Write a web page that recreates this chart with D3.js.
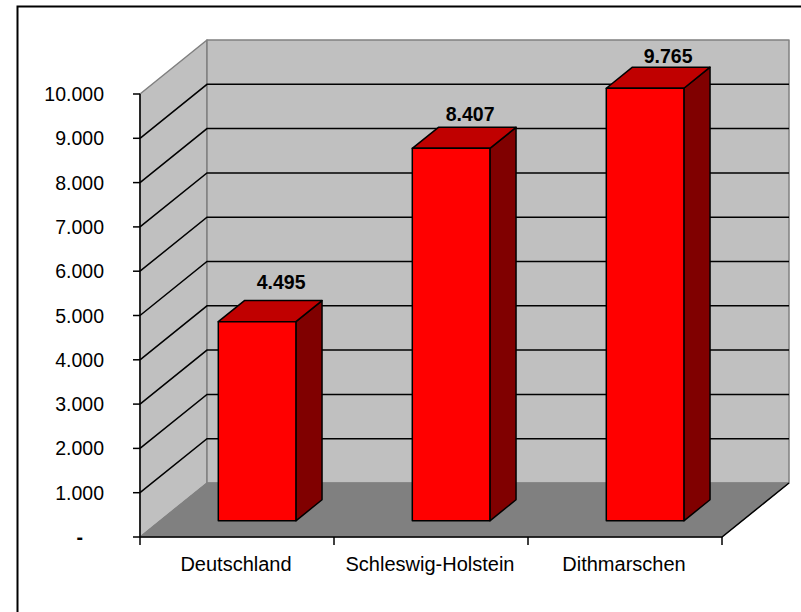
<!DOCTYPE html>
<html>
  <head>
    <meta charset="utf-8" />
    <script src="https://d3js.org/d3.v7.min.js"></script>
    <style>
      body { margin: 0; background: #fff; }
      text { font-family: "Liberation Sans", Arial, sans-serif; fill: #000; }
    </style>
  </head>
  <body>
    <svg id="chart" width="801" height="612" style="display: block"></svg>
    <script>
      const categories = ["Deutschland", "Schleswig-Holstein", "Dithmarschen"];
      const values = [4495, 8407, 9765];
      const ticks = [0, 1000, 2000, 3000, 4000, 5000, 6000, 7000, 8000, 9000, 10000];
      const tickLabels = ["-", "1.000", "2.000", "3.000", "4.000", "5.000", "6.000", "7.000", "8.000", "9.000", "10.000"];
      const valueLabels = ["4.495", "8.407", "9.765"];

      const svg = d3.select("#chart");

      // chart frame, the picture is cropped so only top and left show
      svg.append("polyline")
        .attr("points", "17.5,612 17.5,6.5 801,6.5")
        .attr("fill", "none").attr("stroke", "#000").attr("stroke-width", 2);

      // front plane scales, the walls are the same thing shifted back by dx,dy
      const x = d3.scaleBand().domain(categories).range([140, 722]);
      const y = d3.scaleLinear().domain([0, 10000]).range([537, 94]);
      // data labels drift a bit relative to the bars, so they get their own scale
      const yLabel = d3.scaleLinear().domain([0, 10000]).range([482.6, 52.6]);
      const labelNudge = [11, 6, 10]; // x shift from the bar top centre
      const dx = 67, dy = -54;
      const barW = x.bandwidth() * 0.4;
      const nearDepth = 0.3, farDepth = 0.69; // where bar sits on the floor

      const poly = (pts, fill, stroke, sw) => svg.append("polygon")
        .attr("points", pts.map((p) => p.join(",")).join(" "))
        .attr("fill", fill).attr("stroke", stroke).attr("stroke-width", sw)
        .attr("stroke-linejoin", "round");

      const x0 = x.range()[0], x1 = x.range()[1];
      const yb = y(0), yt = y(10000);

      // side wall, back wall, floor
      poly([[x0, yb], [x0 + dx, yb + dy], [x0 + dx, yt + dy], [x0, yt]], "#c0c0c0", "#808080", 1.5);
      poly([[x0 + dx, yb + dy], [x1 + dx, yb + dy], [x1 + dx, yt + dy], [x0 + dx, yt + dy]], "#c0c0c0", "#808080", 1.5);
      poly([[x0, yb], [x1, yb], [x1 + dx, yb + dy], [x0 + dx, yb + dy]], "#808080", "#808080", 1);

      // gridlines
      ticks.slice(1, -1).forEach((t) => {
        svg.append("polyline")
          .attr("points", `${x0},${y(t)} ${x0 + dx},${y(t) + dy} ${x1 + dx},${y(t) + dy}`)
          .attr("fill", "none").attr("stroke", "#000").attr("stroke-width", 1.5);
      });

      // floor front edges
      svg.append("polyline")
        .attr("points", `${x1 + dx},${yb + dy} ${x1},${yb} ${x0},${yb}`)
        .attr("fill", "none").attr("stroke", "#000").attr("stroke-width", 1.5);

      // y axis
      svg.append("line").attr("x1", x0).attr("x2", x0).attr("y1", yt).attr("y2", yb + 8)
        .attr("stroke", "#000").attr("stroke-width", 1.5);
      ticks.forEach((t, i) => {
        svg.append("line").attr("x1", x0 - 7).attr("x2", x0).attr("y1", y(t)).attr("y2", y(t))
          .attr("stroke", "#000").attr("stroke-width", 1.5);
        // the dash for zero sits further left, accounting number format
        svg.append("text").attr("x", t === 0 ? 83 : 104).attr("y", y(t)).attr("dy", "0.36em")
          .attr("text-anchor", "end").attr("font-size", 19.5)
          .attr("font-weight", t === 0 ? "bold" : "normal").text(tickLabels[i]);
      });

      // x axis
      categories.forEach((c) => {
        svg.append("line").attr("x1", x(c) + x.bandwidth()).attr("x2", x(c) + x.bandwidth())
          .attr("y1", yb).attr("y2", yb + 8).attr("stroke", "#000").attr("stroke-width", 1.5);
        svg.append("text").attr("x", x(c) + x.bandwidth() / 2 - 1).attr("y", 571)
          .attr("text-anchor", "middle").attr("font-size", 20).text(c);
      });

      // bars
      categories.forEach((c, i) => {
        const l = x(c) + (x.bandwidth() - barW) / 2 + dx * nearDepth;
        const r = l + barW;
        const b = yb + dy * nearDepth;
        const top = y(values[i]) + dy * nearDepth;
        const ox = dx * (farDepth - nearDepth), oy = dy * (farDepth - nearDepth);
        poly([[r, b], [r + ox, b + oy], [r + ox, top + oy], [r, top]], "#800000", "#000", 1.5);
        poly([[l, top], [r, top], [r + ox, top + oy], [l + ox, top + oy]], "#c00000", "#000", 1.5);
        poly([[l, b], [r, b], [r, top], [l, top]], "#ff0000", "#000", 1.5);
        svg.append("text").attr("x", (l + r + ox) / 2 + labelNudge[i]).attr("y", yLabel(values[i]))
          .attr("text-anchor", "middle").attr("font-size", 19.5).attr("font-weight", "bold")
          .text(valueLabels[i]);
      });
    </script>
  </body>
</html>
